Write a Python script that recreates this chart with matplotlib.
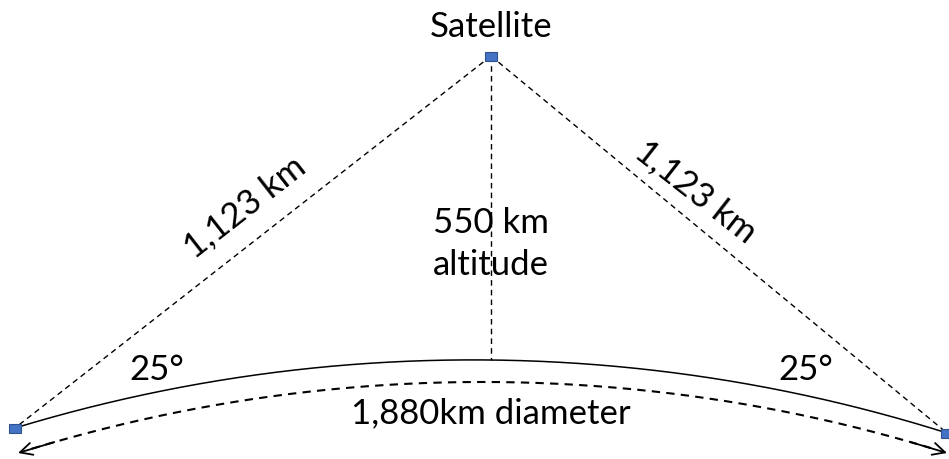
import numpy as np
import matplotlib.pyplot as plt

# pixel-space layout
sat = (491, 56)
left_gs = (15, 428)
right_gs = (947, 433)
earth_top = (491, 360)
diam_ends = [(18, 453), (947, 453)]
diam_top = (491, 382)

slant_label = "1,123 km"
alt_label = "550 km\naltitude"
angle_label = "25°"
diam_label = "1,880km diameter"

plt.rcParams['font.family'] = ['Lato', 'DejaVu Sans']
fig = plt.figure(figsize=(9.49, 4.59), dpi=100)
ax = fig.add_axes([0, 0, 1, 1])
ax.set_xlim(0, 949)
ax.set_ylim(459, 0)
ax.axis('off')


def arc_through(p1, p2, p3, n=200):
    # circle through three points, sampled from p1 to p3
    (x1, y1), (x2, y2), (x3, y3) = p1, p2, p3
    d = 2 * (x1 * (y2 - y3) + x2 * (y3 - y1) + x3 * (y1 - y2))
    ux = ((x1**2 + y1**2) * (y2 - y3) + (x2**2 + y2**2) * (y3 - y1) + (x3**2 + y3**2) * (y1 - y2)) / d
    uy = ((x1**2 + y1**2) * (x3 - x2) + (x2**2 + y2**2) * (x1 - x3) + (x3**2 + y3**2) * (x2 - x1)) / d
    r = np.hypot(x1 - ux, y1 - uy)
    a1 = np.arctan2(y1 - uy, x1 - ux)
    a3 = np.arctan2(y3 - uy, x3 - ux)
    t = np.linspace(a1, a3, n)
    return ux + r * np.cos(t), uy + r * np.sin(t)


# earth surface
xs, ys = arc_through(left_gs, earth_top, right_gs)
ax.plot(xs, ys, color='black', lw=1.1)

# diameter arrow arc
xd, yd = arc_through(diam_ends[0], diam_top, diam_ends[1])
ax.plot(xd[3:-3], yd[3:-3], color='black', lw=1.5, ls=(0, (4, 3)))
for a, b in [(0, 8), (-1, -9)]:
    ax.annotate('', xy=(xd[a], yd[a]), xytext=(xd[b], yd[b]),
                arrowprops=dict(arrowstyle='->', lw=1.3, color='black',
                                mutation_scale=22, shrinkA=0, shrinkB=0))

# slant and altitude lines
for end in [left_gs, right_gs, earth_top]:
    ax.plot([sat[0], end[0]], [sat[1], end[1]], color='black', lw=1, ls=(0, (4, 3)))

# satellite / ground station markers
for p in [sat, left_gs, right_gs]:
    ax.add_patch(plt.Rectangle((p[0] - 6, p[1] - 4.5), 12, 9, facecolor='#4472C4',
                               edgecolor='#2F528F', lw=0.8, zorder=5))

fs = 25
ax.text(sat[0], 27, "Satellite", ha='center', va='center', fontsize=fs)
ax.text(245, 207, slant_label, ha='center', va='center', fontsize=fs, rotation=38)
ax.text(696, 192, slant_label, ha='center', va='center', fontsize=fs, rotation=-38)
ax.text(491, 244, alt_label, ha='center', va='center', fontsize=fs, linespacing=1.35)
ax.text(157, 370, angle_label, ha='center', va='center', fontsize=fs)
ax.text(806, 370, angle_label, ha='center', va='center', fontsize=fs)
ax.text(491, 413, diam_label, ha='center', va='center', fontsize=fs)

fig.savefig('out.png', dpi=100)
